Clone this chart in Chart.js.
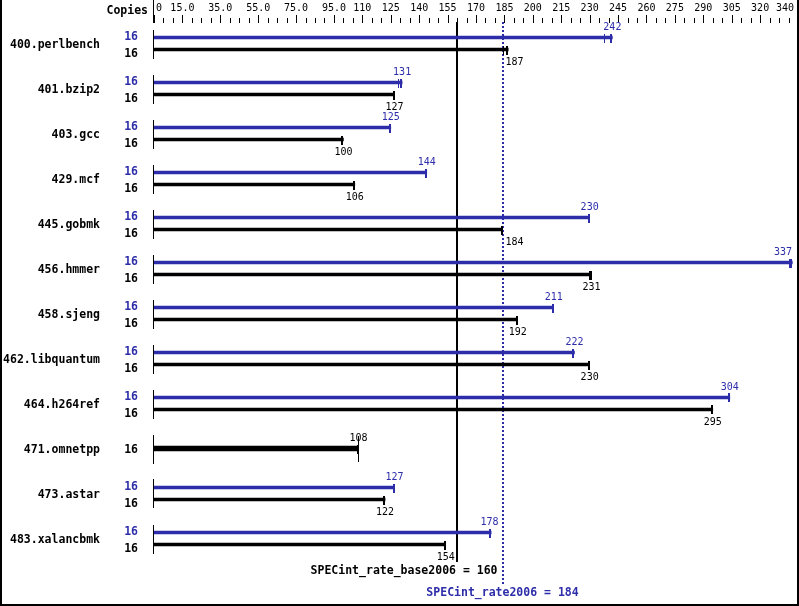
<!DOCTYPE html>
<html>
<head>
<meta charset="utf-8">
<script src="https://cdn.jsdelivr.net/npm/chart.js@4/dist/chart.umd.min.js"></script>
<style>
  html, body { margin: 0; padding: 0; background: #fff; }
  canvas { display: block; }
</style>
</head>
<body>
<canvas id="chart" width="799" height="606"></canvas>
<script>
// ===============================
// Data
// ===============================
const benchmarks = [
  "400.perlbench", "401.bzip2", "403.gcc", "429.mcf", "445.gobmk", "456.hmmer",
  "458.sjeng", "462.libquantum", "464.h264ref", "471.omnetpp", "473.astar", "483.xalancbmk",
];
const peakCopies = [16, 16, 16, 16, 16, 16, 16, 16, 16, null, 16, 16];
const baseCopies = [16, 16, 16, 16, 16, 16, 16, 16, 16, 16, 16, 16];
const peakRatio = [242, 131, 125, 144, 230, 337, 211, 222, 304, null, 127, 178];
const baseRatio = [187, 127, 100, 106, 184, 231, 192, 230, 295, 108, 122, 154];
// other run results, shown as a thin extra tick near the bar end
const peakOther = [238, 129.5, null, null, null, 336, null, null, null, null, null, null];
const baseOther = [185, null, null, null, null, 230, null, null, null, null, null, null];

const tickValues = [0, 15, 35, 55, 75, 95, 110, 125, 140, 155, 170, 185, 200, 215, 230,
  245, 260, 275, 290, 305, 320, 340];
const tickLabels = ["0", "15.0", "35.0", "55.0", "75.0", "95.0", "110", "125", "140", "155",
  "170", "185", "200", "215", "230", "245", "260", "275", "290", "305", "320", "340"];

const baseMean = 160;
const peakMean = 184;
const baseMeanLabel = "SPECint_rate_base2006 = 160";
const peakMeanLabel = "SPECint_rate2006 = 184";

// ===============================
// Styles
// ===============================
const BLUE = "#2d2daa";
const BLACK = "#000";
const MONO = '"DejaVu Sans Mono", "Liberation Mono", monospace';
const ROW_OFF = 6 / 45; // half gap between peak and base line, in row units

// Split: rows with only a base result get one thick line
const peakData = [], baseData = [], singleData = [];
benchmarks.forEach((b, i) => {
  if (peakRatio[i] == null) {
    singleData.push({ x: baseRatio[i], y: i });
  } else {
    peakData.push({ x: peakRatio[i], y: i - ROW_OFF });
    baseData.push({ x: baseRatio[i], y: i + ROW_OFF });
  }
});

// ===============================
// Custom drawing (axis, caps, labels)
// ===============================
const specPlugin = {
  id: "spec",
  beforeDatasetsDraw(chart) {
    const ctx = chart.ctx;
    const xs = chart.scales.x;
    ctx.save();
    // base mean line
    ctx.fillStyle = BLACK;
    ctx.fillRect(Math.round(xs.getPixelForValue(baseMean)) - 1, 22, 2, 540);
    // peak mean dotted line
    ctx.fillStyle = BLUE;
    const px = Math.round(xs.getPixelForValue(peakMean)) - 1;
    for (let y = 22; y < 584; y += 4) ctx.fillRect(px, y, 2, 2);
    ctx.restore();
  },
  afterDatasetsDraw(chart) {
    const ctx = chart.ctx;
    const xs = chart.scales.x;
    const ys = chart.scales.y;
    const peakX = xs.getPixelForValue(peakMean);
    ctx.save();

    // frame (left, right, bottom)
    ctx.fillStyle = BLACK;
    ctx.fillRect(0, 0, 2, 606);
    ctx.fillRect(797, 0, 2, 606);
    ctx.fillRect(0, 604, 799, 2);

    // top axis
    ctx.fillRect(153, 0, 1, 23);
    for (let v = 0; v <= 340; v += 5) {
      const x = Math.round(xs.getPixelForValue(v));
      const long = tickValues.includes(v);
      ctx.fillRect(x, long ? 15 : 18, 1, long ? 8 : 5);
    }
    ctx.font = "10px " + MONO;
    ctx.textBaseline = "alphabetic";
    tickValues.forEach((v, i) => {
      const x = xs.getPixelForValue(v);
      if (i === 0) { ctx.textAlign = "left"; ctx.fillText(tickLabels[i], x + 2, 11); }
      else if (i === tickValues.length - 1) { ctx.textAlign = "right"; ctx.fillText(tickLabels[i], x - 4, 11); }
      else { ctx.textAlign = "center"; ctx.fillText(tickLabels[i], x, 11); }
    });
    ctx.font = "bold 11.5px " + MONO;
    ctx.textAlign = "right";
    ctx.fillText("Copies", 148, 14);

    // value label, kept off the dotted mean line
    const valueLabel = (text, cx, y, color) => {
      ctx.font = "10px " + MONO;
      ctx.fillStyle = color;
      const w = ctx.measureText(text).width;
      let left = cx - w / 2;
      if (left < peakX + 3 && left + w > peakX - 3) {
        const shiftL = left + w - (peakX - 4);
        const shiftR = peakX + 3 - left;
        left = shiftL <= shiftR ? left - shiftL : left + shiftR;
      }
      if (left + w > 792) left = 792 - w;
      ctx.textAlign = "left";
      ctx.fillText(text, left, y);
    };
    const cap = (v, y, color) => {
      ctx.fillStyle = color;
      ctx.fillRect(Math.round(xs.getPixelForValue(v)) - 2, Math.round(y) - 4, 2, 9);
    };
    const thinCap = (v, y, color) => {
      if (v == null) return;
      ctx.fillStyle = color;
      ctx.fillRect(Math.round(xs.getPixelForValue(v)) - 1, Math.round(y) - 4, 1, 9);
    };

    benchmarks.forEach((name, i) => {
      const cy = ys.getPixelForValue(i);
      ctx.fillStyle = BLACK;
      ctx.fillRect(153, Math.round(cy) - 14, 1, 29);

      ctx.font = "bold 11.5px " + MONO;
      ctx.textAlign = "right";
      ctx.fillText(name, 100, cy + 4);

      if (peakRatio[i] == null) {
        ctx.font = "bold 11.5px " + MONO;
        ctx.textAlign = "right";
        ctx.fillText(String(baseCopies[i]), 138, cy + 4.5);
        cap(baseRatio[i], cy, BLACK);
        ctx.fillRect(Math.round(xs.getPixelForValue(baseRatio[i])) - 1, Math.round(cy) - 12, 1, 25);
        valueLabel(String(baseRatio[i]), xs.getPixelForValue(baseRatio[i]), cy - 7.5, BLACK);
      } else {
        const yPeak = ys.getPixelForValue(i - ROW_OFF);
        const yBase = ys.getPixelForValue(i + ROW_OFF);
        ctx.font = "bold 11.5px " + MONO;
        ctx.textAlign = "right";
        ctx.fillStyle = BLUE;
        ctx.fillText(String(peakCopies[i]), 138, cy - 4);
        ctx.fillStyle = BLACK;
        ctx.fillText(String(baseCopies[i]), 138, cy + 13.5);

        cap(peakRatio[i], yPeak, BLUE);
        cap(baseRatio[i], yBase, BLACK);
        thinCap(peakOther[i], yPeak, BLUE);
        thinCap(baseOther[i], yBase, BLACK);
        valueLabel(String(peakRatio[i]), xs.getPixelForValue(peakRatio[i]), yPeak - 7.5, BLUE);
        valueLabel(String(baseRatio[i]), xs.getPixelForValue(baseRatio[i]), yBase + 15.5, BLACK);
      }
    });

    // mean labels
    ctx.font = "bold 11.5px " + MONO;
    ctx.fillStyle = BLACK;
    ctx.textAlign = "right";
    ctx.fillText(baseMeanLabel, peakX - 5, 573.5);
    ctx.fillStyle = BLUE;
    ctx.textAlign = "center";
    ctx.fillText(peakMeanLabel, peakX, 595.5);

    ctx.restore();
  },
};

// ===============================
// Chart
// ===============================
const yMin = -43.5 / 45;

new Chart(document.getElementById("chart"), {
  type: "bar",
  data: {
    datasets: [
      { label: "peak", data: peakData, backgroundColor: BLUE, barThickness: 3 },
      { label: "base", data: baseData, backgroundColor: BLACK, barThickness: 3 },
      { label: "single", data: singleData, backgroundColor: BLACK, barThickness: 5 },
    ],
  },
  options: {
    indexAxis: "y",
    responsive: false,
    animation: false,
    layout: { padding: { left: 154, right: 1, top: 0, bottom: 0 } },
    scales: {
      x: { type: "linear", min: 0, max: 340, display: false },
      y: { type: "linear", min: yMin, max: yMin + 606 / 45, reverse: true, offset: false, display: false },
    },
    datasets: { bar: { grouped: false, borderWidth: 0 } },
    plugins: { legend: { display: false }, tooltip: { enabled: false } },
  },
  plugins: [specPlugin],
});
</script>
</body>
</html>
